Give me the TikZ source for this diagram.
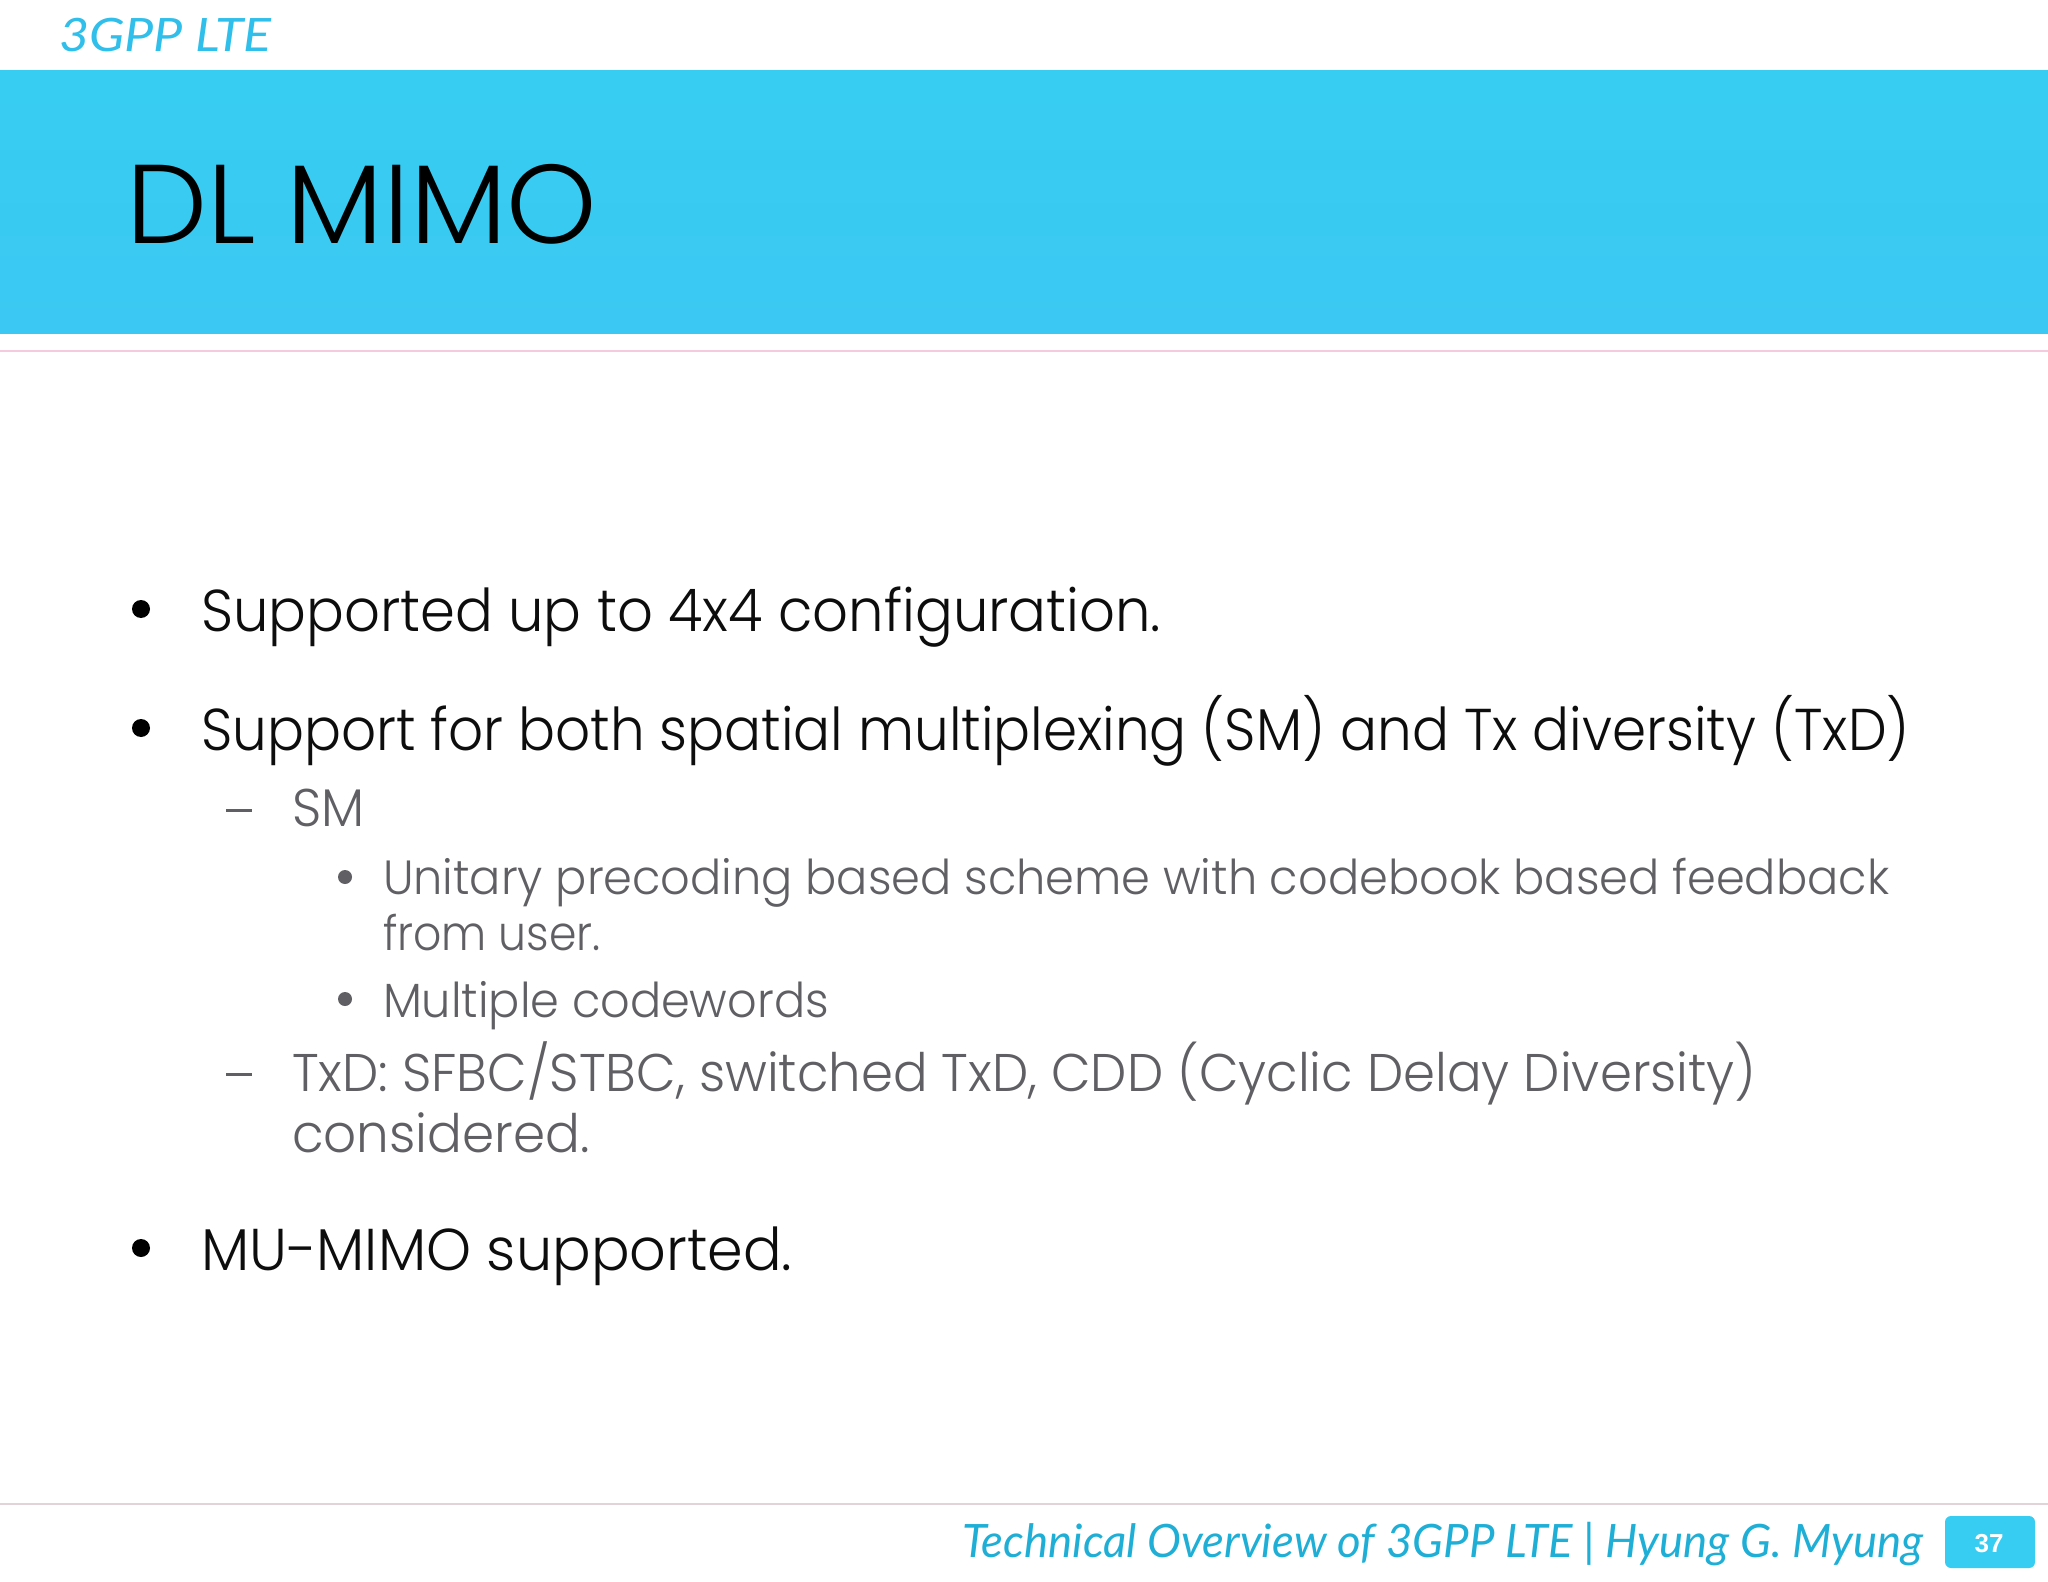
\documentclass[tikz,border=0pt]{standalone}
\usepackage{fontspec}
\setmainfont{Poppins Light}
\newfontfamily\handfont{Lato Italic}
\usetikzlibrary{calc,positioning}
\definecolor{bandblue}{HTML}{37CDF2}
\definecolor{bandlow}{HTML}{3BC8F2}
\definecolor{handblue}{HTML}{2FBFEA}
\definecolor{footblue}{HTML}{1FAFD6}
\definecolor{subgray}{HTML}{606064}
\definecolor{rulepink}{HTML}{F5CADC}
\tikzset{
	txt/.style={anchor=base west, inner sep=0pt, outer sep=0pt, transform shape},
	lone/.style={txt, xscale=#1, text=black!95, font=\fontsize{29.5}{30}\selectfont},
	ltwo/.style={txt, xscale=#1, text=subgray, font=\fontsize{26.5}{27}\selectfont},
	lthree/.style={txt, xscale=#1, text=subgray, font=\fontsize{24}{25}\selectfont},
	hand/.style={txt, xscale=#1, font=\handfont\fontsize{23}{24}\selectfont},
	dot/.style={circle, inner sep=0pt, outer sep=0pt, minimum size=#1, fill=black},
}
\begin{document}
\begin{tikzpicture}[x=0.5pt,y=-0.5pt]
	\useasboundingbox (0,0) rectangle (2048,1582);
	\fill [white] (0,0) rectangle (2048,1582);
	\fill [top color=bandblue, bottom color=bandlow] (0,71) rectangle (2048,334);
	\draw [rulepink, line width=0.7pt] (0,351) -- (2048,351);
	\draw [rulepink!70!gray!60, line width=0.6pt] (0,1504) -- (2048,1504);
	
	\node [hand=1.13, text=handblue] (head) at (59,52) {3GPP LTE};
	\node [txt, xscale=1.026, text=black, font=\fontsize{56}{60}\selectfont] (title) at (126,244) {DL MIMO};
	
	\node [lone=0.95] (one) at (201,631) {Supported up to 4x4 configuration.};
	\node [lone=0.929] (two) at (201,750) {Support for both spatial multiplexing (SM) and Tx diversity (TxD)};
	\node [ltwo=0.964] (sm) at (292,826) {SM};
	\node [lthree=0.964] (unit) at (383,894) {Unitary precoding based scheme with codebook based feedback};
	\node [lthree=0.92] (user) at (383,950) {from user.};
	\node [lthree=0.963] (code) at (383,1017) {Multiple codewords};
	\node [ltwo=0.969] (txd) at (292,1091) {TxD: SFBC/STBC, switched TxD, CDD (Cyclic Delay Diversity)};
	\node [ltwo=0.974] (cons) at (292,1152) {considered.};
	\node [lone=0.97] (mu) at (201,1270) {MU-MIMO supported.};
	
	\foreach \n/\y in {b1/609, b2/728, b3/1248} {
		\node [dot=9pt] (\n) at (141,\y) {};
	}
	\foreach \n/\y in {b4/877, b5/999} {
		\node [dot=7pt, fill=subgray] (\n) at (345,\y) {};
	}
	\foreach \n/\y in {d1/809, d2/1073} {
		\fill [subgray] (226,\y) rectangle (252,\y+3);
	}
	
	\node [hand=0.99, text=footblue] (foot) at (962,1557) {Technical Overview of 3GPP LTE | Hyung G. Myung};
	\fill [bandblue, rounded corners=3pt] (1945,1516) rectangle (2035,1568);
	\node [text=white, inner sep=0pt, font=\fontspec{Liberation Sans Bold}\fontsize{13}{14}\selectfont] (page) at (1989,1544) {37};
\end{tikzpicture}
\end{document}
